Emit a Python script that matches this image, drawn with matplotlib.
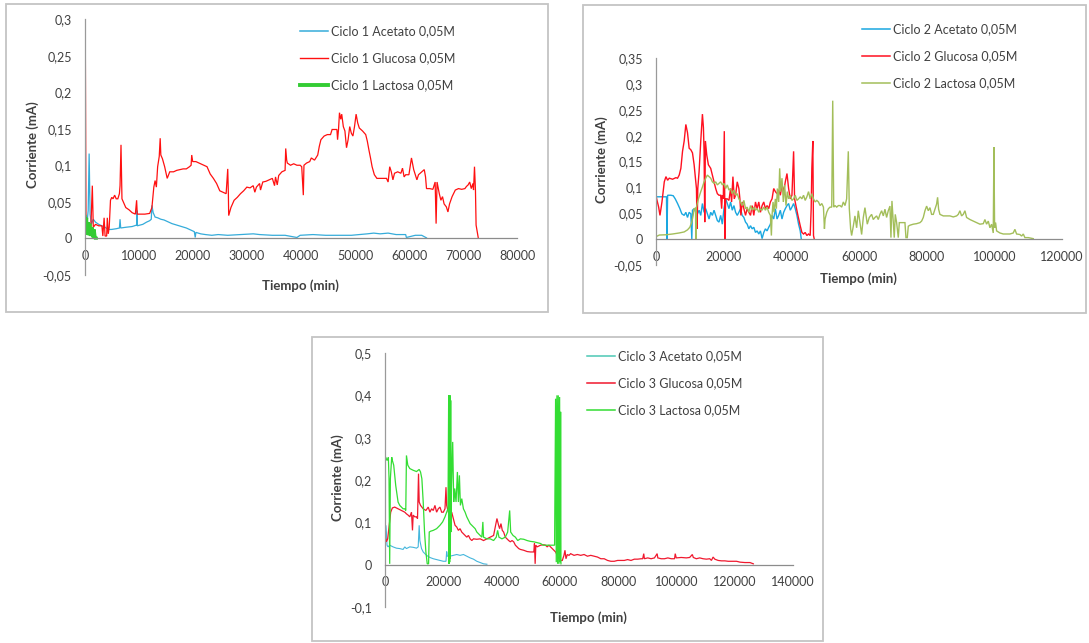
import numpy as np
import matplotlib.pyplot as plt
from matplotlib.patches import Rectangle
from matplotlib.lines import Line2D
from matplotlib.ticker import FuncFormatter, MultipleLocator

plt.rcParams['font.family'] = ['Lato', 'DejaVu Sans']
plt.rcParams['axes.unicode_minus'] = False

# ---------------------------------------------------------------------
# Data: (tiempo [min], corriente [mA]) pairs read from the logger runs
# ---------------------------------------------------------------------
c1_acetato = [
    (0, 0.015), (354, 0.019), (590, 0.038), (767, 0.116), (944, 0.033), (1180, 0.019),
    (1534, 0.026), (1947, 0.022), (2537, 0.019), (3127, 0.017), (3717, 0.015), (4307, 0.012),
    (4897, 0.012), (5782, 0.013), (6372, 0.014), (6490, 0.026), (6608, 0.014), (7552, 0.015),
    (8732, 0.016), (9558, 0.018), (9617, 0.038), (9676, 0.017), (10702, 0.019), (11387, 0.022),
    (11977, 0.024), (12272, 0.026), (12390, 0.045), (12626, 0.035), (12980, 0.029), (13452, 0.028),
    (14042, 0.026), (14632, 0.025), (15222, 0.023), (16107, 0.020), (16992, 0.018), (17877, 0.016),
    (18762, 0.014), (19647, 0.011), (20237, 0.009), (20414, 0.001), (20532, 0.008), (21417, 0.006),
    (22302, 0.005), (23482, 0.004), (24662, 0.005), (26432, 0.004), (28792, 0.005), (31152, 0.006),
    (32332, 0.005), (34692, 0.004), (37052, 0.004), (39245, 0.001), (39837, 0.004), (42207, 0.005),
    (44577, 0.004), (49317, 0.004), (52280, 0.006), (53465, 0.007), (54650, 0.006), (56131, 0.007),
    (57612, 0.005), (59390, 0.005), (59508, 0.001), (61167, 0.004), (62352, 0.004), (63241, 0.0005),
]
c1_glucosa = [
    (0, 0.050), (60, 0.267), (180, 0.030), (472, 0.015), (826, 0.006), (1062, 0.010),
    (1357, 0.072), (1534, 0.015), (1947, 0.019), (2537, 0.017), (3127, 0.017), (3304, 0.003),
    (3540, 0.028), (3717, 0.003), (4012, 0.003), (4130, 0.028), (4307, 0.006), (4484, 0.015),
    (4720, 0.052), (4956, 0.056), (5192, 0.054), (5487, 0.059), (5782, 0.054), (6077, 0.054),
    (6372, 0.061), (6490, 0.072), (6667, 0.128), (6844, 0.054), (7257, 0.047), (7552, 0.042),
    (8142, 0.039), (8732, 0.035), (9322, 0.033), (9558, 0.052), (9676, 0.033), (10207, 0.033),
    (11092, 0.033), (11977, 0.034), (12390, 0.042), (12744, 0.070), (12980, 0.079), (13216, 0.070),
    (13452, 0.098), (13747, 0.112), (13924, 0.137), (14042, 0.114), (14337, 0.109), (14750, 0.098),
    (15222, 0.082), (15694, 0.091), (16402, 0.091), (16992, 0.093), (17582, 0.094), (18172, 0.095),
    (18762, 0.095), (19352, 0.098), (19647, 0.100), (19765, 0.114), (19942, 0.105), (20532, 0.105),
    (21417, 0.102), (22007, 0.100), (22597, 0.098), (23187, 0.088), (23777, 0.082), (24367, 0.075),
    (24957, 0.065), (25547, 0.063), (26137, 0.061), (26432, 0.095), (26550, 0.061), (26609, 0.031),
    (27022, 0.042), (27612, 0.052), (28202, 0.056), (28792, 0.061), (29382, 0.065), (29972, 0.070),
    (30562, 0.069), (31152, 0.072), (31450, 0.063), (31742, 0.070), (32332, 0.075), (32500, 0.066),
    (32922, 0.077), (33512, 0.078), (34102, 0.080), (34692, 0.082), (35100, 0.072), (35282, 0.084),
    (35600, 0.073), (35872, 0.086), (36462, 0.091), (37052, 0.093), (37170, 0.123), (37347, 0.107),
    (37467, 0.103), (38060, 0.100), (38652, 0.102), (39245, 0.100), (39837, 0.100), (40133, 0.098),
    (40430, 0.059), (40548, 0.100), (41022, 0.103), (41614, 0.105), (41911, 0.110), (42503, 0.107),
    (43096, 0.114), (43392, 0.126), (43688, 0.135), (44281, 0.140), (44873, 0.142), (45466, 0.142),
    (45762, 0.149), (46355, 0.149), (46651, 0.149), (46769, 0.135), (46947, 0.149), (47125, 0.172),
    (47362, 0.163), (47540, 0.170), (47836, 0.153), (48132, 0.147), (48428, 0.124), (48725, 0.135),
    (49021, 0.153), (49317, 0.144), (49613, 0.140), (49910, 0.153), (50206, 0.170), (50502, 0.158),
    (50798, 0.151), (51391, 0.147), (51984, 0.142), (52280, 0.133), (52576, 0.121), (52872, 0.110),
    (53168, 0.098), (53583, 0.087), (54057, 0.082), (54946, 0.082), (55835, 0.082), (56131, 0.077),
    (56427, 0.098), (56723, 0.091), (57020, 0.080), (57316, 0.089), (57908, 0.091), (58501, 0.089),
    (58797, 0.096), (59093, 0.084), (59390, 0.087), (59982, 0.087), (60456, 0.110), (60871, 0.094),
    (61167, 0.087), (61463, 0.080), (61760, 0.087), (62352, 0.091), (62826, 0.094), (63063, 0.084),
    (63241, 0.068), (63834, 0.068), (64426, 0.067), (64841, 0.077), (65018, 0.020), (65196, 0.077),
    (65611, 0.061), (65907, 0.052), (66203, 0.057), (66500, 0.047), (66914, 0.043), (67211, 0.036),
    (67507, 0.047), (67981, 0.057), (68573, 0.066), (69166, 0.068), (69759, 0.067), (70351, 0.068),
    (70647, 0.071), (70943, 0.073), (71240, 0.077), (71536, 0.068), (71832, 0.075), (71951, 0.066),
    (72128, 0.098), (72306, 0.066), (72424, 0.018), (72839, 0.0),
]
c1_lactosa = [
    (0, 0.030), (150, 0.010), (300, 0.028), (450, 0.005), (600, 0.022), (750, 0.004),
    (900, 0.020), (1100, 0.003), (1300, 0.015), (1500, 0.001), (1700, 0.012), (1900, 0.0),
    (2100, 0.0),
]

c2_acetato = [
    (0, 0.082), (1500, 0.082), (3100, 0.082), (3234, 0.0), (3430, 0.085), (4410, 0.085),
    (5096, 0.084), (5684, 0.078), (6370, 0.069), (7056, 0.059), (7644, 0.049), (8330, 0.046),
    (8820, 0.052), (9310, 0.042), (9800, 0.052), (10290, 0.049), (10584, 0.0), (10780, 0.056),
    (11270, 0.059), (11760, 0.052), (12250, 0.049), (12740, 0.056), (13230, 0.046), (13720, 0.069),
    (14210, 0.052), (14700, 0.059), (15190, 0.049), (15680, 0.039), (16170, 0.052), (16660, 0.046),
    (17150, 0.056), (17640, 0.046), (18130, 0.036), (18620, 0.033), (19110, 0.046), (19600, 0.029),
    (20090, 0.059), (20580, 0.078), (21070, 0.069), (21560, 0.059), (22050, 0.072), (22540, 0.056),
    (23030, 0.065), (23520, 0.052), (24010, 0.046), (24500, 0.052), (24990, 0.059), (25480, 0.046),
    (25970, 0.042), (26460, 0.033), (26950, 0.029), (27440, 0.020), (27930, 0.026), (28420, 0.020),
    (28910, 0.023), (29400, 0.013), (29890, 0.016), (30380, 0.010), (30870, 0.016), (31360, 0.001),
    (31850, 0.013), (32340, 0.020), (32830, 0.016), (33320, 0.023), (33810, 0.029), (34300, 0.046),
    (34790, 0.039), (35280, 0.059), (35770, 0.039), (36260, 0.046), (36750, 0.056), (37240, 0.039),
    (37730, 0.052), (38220, 0.059), (38710, 0.065), (39200, 0.069), (39690, 0.056), (40180, 0.062),
    (40670, 0.069), (41160, 0.059), (41650, 0.046), (42140, 0.029), (42630, 0.016), (42924, 0.001),
]
c2_glucosa = [
    (0, 0.085), (196, 0.078), (784, 0.062), (1176, 0.046), (1764, 0.072), (2450, 0.111),
    (2940, 0.121), (3430, 0.114), (3920, 0.118), (4900, 0.116), (5880, 0.119), (6370, 0.118),
    (6860, 0.124), (7350, 0.137), (7840, 0.170), (8330, 0.190), (8820, 0.222), (9310, 0.206),
    (9800, 0.176), (10290, 0.173), (10780, 0.167), (11270, 0.144), (11564, 0.124), (11956, 0.098),
    (12152, 0.020), (12348, 0.098), (12740, 0.131), (13230, 0.190), (13720, 0.242), (14014, 0.216),
    (14210, 0.170), (14406, 0.033), (14602, 0.190), (14994, 0.163), (15484, 0.144), (16170, 0.137),
    (16660, 0.124), (17150, 0.111), (17640, 0.098), (18130, 0.088), (18620, 0.085), (19110, 0.085),
    (19404, 0.059), (19600, 0.085), (19894, 0.078), (20188, 0.209), (20384, 0.0), (20580, 0.078),
    (21070, 0.078), (21560, 0.075), (22050, 0.098), (22344, 0.072), (22736, 0.121), (23128, 0.078),
    (23520, 0.085), (24010, 0.111), (24500, 0.098), (24794, 0.078), (25088, 0.046), (25480, 0.072),
    (25970, 0.059), (26460, 0.046), (26950, 0.059), (27440, 0.052), (27930, 0.046), (28420, 0.065),
    (28910, 0.046), (29400, 0.072), (29890, 0.059), (30380, 0.072), (30870, 0.052), (31360, 0.065),
    (31850, 0.072), (32340, 0.059), (32830, 0.065), (33320, 0.059), (33810, 0.072), (34300, 0.078),
    (34790, 0.098), (35280, 0.092), (35770, 0.088), (36260, 0.095), (36750, 0.085), (37240, 0.105),
    (37730, 0.092), (38220, 0.111), (38710, 0.127), (39200, 0.098), (39690, 0.078), (40180, 0.085),
    (40670, 0.170), (40964, 0.078), (41356, 0.065), (41944, 0.046), (42630, 0.026), (43120, 0.013),
    (43610, 0.010), (44100, 0.013), (44590, 0.007), (45080, 0.010), (45570, 0.007), (45864, 0.059),
    (46060, 0.137), (46354, 0.190), (46550, 0.007), (46746, 0.001),
]
c2_lactosa = [
    (0, 0.0), (30, 0.290), (60, 0.005), (980, 0.008), (2940, 0.0085), (4900, 0.010),
    (6860, 0.012), (8330, 0.014), (9310, 0.018), (9996, 0.023), (10584, 0.033), (10976, 0.046),
    (11270, 0.059), (11700, 0.060), (11760, 0.0), (11820, 0.060), (11956, 0.062), (12544, 0.078),
    (13230, 0.092), (13720, 0.101), (14210, 0.111), (14700, 0.118), (15190, 0.124), (15680, 0.121),
    (16170, 0.118), (16660, 0.111), (17150, 0.108), (17640, 0.111), (18130, 0.105), (18620, 0.108),
    (19110, 0.111), (19600, 0.105), (20090, 0.108), (20580, 0.098), (21070, 0.105), (21560, 0.095),
    (22050, 0.098), (22540, 0.088), (23030, 0.095), (23520, 0.085), (24010, 0.088), (24500, 0.078),
    (24990, 0.072), (25480, 0.065), (25970, 0.075), (26460, 0.059), (26950, 0.062), (27440, 0.052),
    (27930, 0.065), (28420, 0.056), (28910, 0.062), (29400, 0.056), (29890, 0.059), (30380, 0.052),
    (30870, 0.059), (31360, 0.056), (31850, 0.062), (32340, 0.056), (32830, 0.062), (33320, 0.052),
    (33810, 0.046), (34104, 0.007), (34300, 0.046), (34594, 0.072), (34888, 0.052), (35280, 0.078),
    (35574, 0.059), (35868, 0.098), (36260, 0.072), (36554, 0.137), (36848, 0.092), (37240, 0.118),
    (37632, 0.072), (38024, 0.105), (38416, 0.065), (38808, 0.092), (39200, 0.078), (39690, 0.085),
    (40180, 0.075), (40670, 0.078), (41160, 0.085), (41650, 0.075), (42140, 0.078), (42630, 0.082),
    (43120, 0.078), (43610, 0.085), (44100, 0.075), (44590, 0.082), (45080, 0.092), (45570, 0.078),
    (46060, 0.088), (46550, 0.078), (47040, 0.072), (47530, 0.075), (48020, 0.072), (48510, 0.065),
    (49000, 0.069), (49490, 0.062), (49784, 0.020), (49980, 0.039), (50470, 0.052), (50960, 0.059),
    (51450, 0.062), (51940, 0.062), (52234, 0.268), (52528, 0.062), (52920, 0.065), (53410, 0.062),
    (53900, 0.065), (54390, 0.065), (54880, 0.062), (55370, 0.072), (55860, 0.065), (56350, 0.078),
    (56840, 0.170), (57134, 0.059), (57526, 0.020), (57820, 0.007), (58310, 0.025), (58800, 0.045),
    (59300, 0.022), (59790, 0.055), (60280, 0.032), (60780, 0.009), (61270, 0.042), (61760, 0.061),
    (62450, 0.029), (63040, 0.042), (63730, 0.048), (64220, 0.038), (64720, 0.042), (65210, 0.045),
    (65700, 0.038), (66190, 0.048), (66690, 0.055), (67180, 0.045), (67670, 0.058), (68160, 0.042),
    (68650, 0.055), (69150, 0.064), (69440, 0.003), (69740, 0.074), (70130, 0.035), (70420, 0.003),
    (70720, 0.048), (71120, 0.032), (71610, 0.003), (71910, 0.032), (72600, 0.032), (73090, 0.032),
    (73580, 0.032), (73880, 0.003), (74270, 0.003), (74570, 0.025), (75060, 0.027), (76050, 0.029),
    (77030, 0.030), (78020, 0.032), (78510, 0.035), (79000, 0.042), (79490, 0.055), (79990, 0.064),
    (80480, 0.055), (80970, 0.061), (81460, 0.048), (81960, 0.048), (82450, 0.058), (82940, 0.068),
    (83230, 0.081), (83530, 0.058), (83920, 0.048), (84910, 0.045), (85890, 0.045), (86880, 0.045),
    (87860, 0.043), (88850, 0.045), (89340, 0.048), (89830, 0.055), (90320, 0.045), (90820, 0.048),
    (91310, 0.055), (91800, 0.042), (92790, 0.038), (93770, 0.035), (94760, 0.032), (95740, 0.029),
    (96730, 0.030), (97220, 0.038), (97710, 0.029), (98210, 0.035), (98700, 0.022), (99190, 0.029),
    (99680, 0.012), (99880, 0.178), (100080, 0.022), (100370, 0.032), (100670, 0.016), (101650, 0.012),
    (102640, 0.010), (103620, 0.010), (104610, 0.010), (105590, 0.012), (106080, 0.019), (106580, 0.010),
    (107560, 0.009), (108060, 0.006), (108550, 0.010), (109040, 0.003), (110030, 0.003), (111500, 0.001),
]

c3_acetato = [
    (0, 0.030), (230, 0.093), (460, 0.077), (690, 0.046), (1035, 0.042), (1610, 0.046),
    (2760, 0.042), (3910, 0.039), (5060, 0.038), (6210, 0.036), (6785, 0.042), (7360, 0.038),
    (8510, 0.042), (9660, 0.041), (10810, 0.039), (11385, 0.042), (11730, 0.093), (11960, 0.057),
    (12535, 0.038), (13110, 0.030), (14260, 0.022), (15410, 0.017), (16560, 0.014), (17710, 0.012),
    (18860, 0.010), (20010, 0.008), (20930, 0.008), (21160, 0.031), (21390, 0.020), (22310, 0.020),
    (23460, 0.022), (24610, 0.024), (25760, 0.022), (26910, 0.024), (28060, 0.020), (29210, 0.016),
    (30360, 0.013), (31510, 0.008), (32660, 0.005), (33810, 0.002), (34960, 0.001),
]
c3_glucosa = [
    (0, 0.069), (460, 0.054), (920, 0.061), (1380, 0.089), (1955, 0.124), (2530, 0.134),
    (3335, 0.136), (4485, 0.132), (5635, 0.128), (6785, 0.124), (7360, 0.120), (7935, 0.117),
    (8510, 0.113), (9085, 0.124), (9430, 0.081), (9660, 0.117), (10235, 0.113), (10810, 0.113),
    (11155, 0.109), (11500, 0.215), (11730, 0.148), (12190, 0.140), (13110, 0.132), (14030, 0.128),
    (14835, 0.136), (15410, 0.124), (15985, 0.132), (16560, 0.128), (17135, 0.140), (17710, 0.124),
    (18285, 0.132), (18860, 0.136), (19435, 0.124), (20010, 0.124), (20585, 0.132), (20930, 0.183),
    (21160, 0.140), (21735, 0.124), (22310, 0.117), (22885, 0.124), (23460, 0.109), (24035, 0.093),
    (24610, 0.089), (25185, 0.081), (25760, 0.085), (26335, 0.077), (26910, 0.073), (27485, 0.069),
    (28060, 0.065), (28635, 0.069), (29210, 0.061), (29785, 0.057), (30360, 0.061), (31510, 0.060),
    (32660, 0.061), (33810, 0.057), (34960, 0.061), (36110, 0.065), (37260, 0.069), (37835, 0.089),
    (38410, 0.109), (38985, 0.093), (39330, 0.085), (39790, 0.097), (40250, 0.081), (40710, 0.077),
    (41285, 0.065), (41860, 0.061), (42435, 0.057), (43010, 0.054), (43585, 0.057), (44160, 0.054),
    (44735, 0.046), (45310, 0.042), (45885, 0.038), (46460, 0.036), (47610, 0.034), (48760, 0.031),
    (49910, 0.030), (51060, 0.030), (51290, 0.050), (51520, 0.002), (51750, 0.046), (52210, 0.042),
    (53360, 0.046), (54510, 0.047), (55085, 0.046), (55660, 0.042), (56235, 0.046), (56810, 0.042),
    (57385, 0.038), (57960, 0.034), (58535, 0.030), (59110, 0.022), (59685, 0.014), (60260, 0.010),
    (60835, 0.010), (61410, 0.022), (61755, 0.034), (62100, 0.014), (62560, 0.024), (63135, 0.022),
    (63710, 0.026), (64860, 0.022), (66010, 0.024), (67160, 0.022), (68310, 0.024), (69460, 0.020),
    (70610, 0.022), (71760, 0.020), (72910, 0.018), (74060, 0.014), (75210, 0.014), (76360, 0.010),
    (77510, 0.008), (78660, 0.008), (79810, 0.010), (80960, 0.010), (82110, 0.010), (83260, 0.012),
    (84410, 0.010), (85560, 0.013), (86710, 0.013), (87860, 0.014), (88435, 0.014), (88780, 0.026),
    (89010, 0.014), (90160, 0.016), (91310, 0.014), (92460, 0.016), (93035, 0.022), (93380, 0.026),
    (93610, 0.016), (94760, 0.014), (95910, 0.014), (97060, 0.016), (98210, 0.014), (99360, 0.014),
    (99590, 0.026), (99935, 0.016), (101660, 0.017), (103385, 0.016), (104535, 0.017), (105455, 0.024),
    (105800, 0.017), (106835, 0.014), (107985, 0.016), (109135, 0.014), (110285, 0.013), (111435, 0.014),
    (112010, 0.010), (112585, 0.018), (113160, 0.013), (114310, 0.010), (115460, 0.009), (116610, 0.009),
    (117760, 0.008), (118910, 0.008), (120635, 0.008), (121785, 0.006), (123510, 0.005), (125235, 0.005),
    (126385, 0.002),
]
c3_lactosa = [
    (0, 0.250), (230, 0.254), (690, 0.246), (1150, 0.254), (1380, 0.203), (1610, 0.002),
    (1840, 0.203), (2300, 0.254), (2530, 0.246), (2990, 0.235), (3680, 0.187), (4485, 0.148),
    (5060, 0.140), (5635, 0.136), (6210, 0.132), (6785, 0.132), (7130, 0.128), (7360, 0.258),
    (7820, 0.235), (8510, 0.227), (9660, 0.223), (10810, 0.220), (11730, 0.225), (12190, 0.219),
    (12650, 0.203), (13110, 0.148), (13570, 0.077), (14030, 0.030), (14490, 0.002), (14950, 0.002),
    (15180, 0.077), (15640, 0.079), (16560, 0.081), (17710, 0.085), (18860, 0.093), (19780, 0.101),
    (20585, 0.113), (21160, 0.124), (21620, 0.132), (21850, 0.400), (21965, 0.002), (22080, 0.392),
    (22195, 0.006), (22310, 0.400), (22425, 0.014), (22540, 0.388), (22655, 0.077), (22770, 0.172),
    (23230, 0.290), (23575, 0.148), (23920, 0.180), (24380, 0.148), (24840, 0.219), (25185, 0.148),
    (25530, 0.211), (25875, 0.140), (26335, 0.156), (26910, 0.132), (27485, 0.124), (28060, 0.113),
    (28635, 0.105), (29210, 0.097), (29785, 0.093), (30360, 0.089), (30935, 0.085), (31510, 0.077),
    (32085, 0.073), (32660, 0.069), (33235, 0.065), (33580, 0.101), (33810, 0.065), (34960, 0.061),
    (36110, 0.061), (37260, 0.057), (38180, 0.065), (38640, 0.081), (39100, 0.065), (40135, 0.061),
    (41285, 0.065), (42090, 0.077), (42780, 0.128), (43125, 0.077), (43930, 0.069), (44735, 0.065),
    (45540, 0.057), (46460, 0.061), (47610, 0.060), (48760, 0.057), (49910, 0.055), (51060, 0.054),
    (52210, 0.052), (53360, 0.050), (54280, 0.046), (55085, 0.046), (56235, 0.046), (57385, 0.046),
    (58190, 0.046), (58535, 0.392), (58765, 0.006), (58995, 0.400), (59225, 0.002), (59455, 0.400),
    (59685, 0.002), (59915, 0.396), (60145, 0.006), (60260, 0.361), (60375, 0.002),
]

labels_1 = ['Ciclo 1 Acetato 0,05M', 'Ciclo 1 Glucosa 0,05M', 'Ciclo 1 Lactosa 0,05M']
labels_2 = ['Ciclo 2 Acetato 0,05M', 'Ciclo 2 Glucosa 0,05M', 'Ciclo 2 Lactosa 0,05M']
labels_3 = ['Ciclo 3 Acetato 0,05M', 'Ciclo 3 Glucosa 0,05M', 'Ciclo 3 Lactosa 0,05M']

# =====================================================================
# Layout helpers (pixel boxes, origin at top-left of the page)
# =====================================================================
W, H = 1089, 643
fig = plt.figure(figsize=(W / 100, H / 100), dpi=100)
TXT = '#404040'


def box(x0, y0, x1, y1):
    return [x0 / W, 1 - y1 / H, (x1 - x0) / W, (y1 - y0) / H]


def fpos(x, y):
    return x / W, 1 - y / H


def comma(v, pos=None):
    v = round(v, 4) + 0.0
    return f"{v:g}".replace('.', ',')


def frame(x0, y0, x1, y1):
    fig.add_artist(Rectangle((x0 / W, 1 - y1 / H), (x1 - x0) / W, (y1 - y0) / H,
                             transform=fig.transFigure, fill=False,
                             edgecolor='#C4C4C4', linewidth=1.3))


def setup(ax, xmax, xstep, ymin, ymax, ystep):
    ax.set_xlim(0, xmax)
    ax.set_ylim(ymin, ymax)
    ax.patch.set_alpha(0)
    for s in ('top', 'right'):
        ax.spines[s].set_visible(False)
    ax.spines['bottom'].set_position(('data', 0))
    ax.spines['bottom'].set_color('#8C8C8C')
    ax.spines['left'].set_color('#9A9A9A')
    ax.spines['bottom'].set_linewidth(0.9)
    ax.spines['left'].set_linewidth(0.9)
    ax.xaxis.set_major_locator(MultipleLocator(xstep))
    ax.yaxis.set_major_locator(MultipleLocator(ystep))
    ax.yaxis.set_major_formatter(FuncFormatter(comma))
    ax.xaxis.set_major_formatter(FuncFormatter(lambda v, p: f"{int(round(v))}"))
    ax.tick_params(axis='both', length=0, labelsize=9, colors=TXT)
    ax.tick_params(axis='y', pad=9.5)
    ax.tick_params(axis='x', pad=8.5)


def draw(ax, series, colors, widths):
    for data, c, lw in zip(series, colors, widths):
        t, i = np.array(data).T
        ax.plot(t, i, color=c, linewidth=lw, solid_joinstyle='miter')


def legend(ax, labels, colors, widths, anchor):
    handles = [Line2D([], [], color=c, linewidth=lw) for c, lw in zip(colors, widths)]
    ax.legend(handles, labels, loc='upper left', bbox_to_anchor=fpos(*anchor),
              bbox_transform=fig.transFigure, frameon=False, fontsize=9,
              handlelength=2.25, handletextpad=0.2, labelspacing=1.22,
              borderpad=0, borderaxespad=0, labelcolor=TXT)


def titles(xl, yl):
    fig.text(*fpos(*xl), 'Tiempo (min)', ha='center', va='center',
             fontsize=9.5, fontweight='bold', color=TXT)
    fig.text(*fpos(*yl), 'Corriente (mA)', ha='center', va='center',
             rotation=90, fontsize=9.5, fontweight='bold', color=TXT)


# ---- Ciclo 1 --------------------------------------------------------
frame(6, 4, 548, 312)
ax1 = fig.add_axes(box(85, 19.3, 517, 274.7))
setup(ax1, 80000, 10000, -0.05, 0.3, 0.05)
col1 = ['#35ACDA', '#FF1010', '#33CC33']
draw(ax1, [c1_acetato, c1_glucosa, c1_lactosa], col1, [0.9, 0.9, 2.2])
legend(ax1, labels_1, col1, [1.1, 1.0, 2.8], (300, 25))
titles((300, 286), (33, 145))

# ---- Ciclo 2 --------------------------------------------------------
frame(583, 5, 1086, 313)
ax2 = fig.add_axes(box(656, 58.3, 1062, 265))
setup(ax2, 120000, 20000, -0.05, 0.35, 0.05)
col2 = ['#1AA7E0', '#FF1020', '#A3BE5A']
draw(ax2, [c2_acetato, c2_glucosa, c2_lactosa], col2, [1.0, 1.0, 1.0])
legend(ax2, labels_2, col2, [1.1, 1.1, 1.1], (862, 23))
titles((858, 279), (602, 160))

# ---- Ciclo 3 --------------------------------------------------------
frame(312, 337, 823, 641)
ax3 = fig.add_axes(box(385, 353, 793, 607))
setup(ax3, 140000, 20000, -0.1, 0.5, 0.1)
col3 = ['#44B6DC', '#F0182E', '#33DD33']
draw(ax3, [c3_acetato, c3_glucosa, c3_lactosa], col3, [0.8, 0.9, 0.9])
legend(ax3, labels_3, ['#4CC8B4', '#F0182E', '#33DD33'], [1.1, 1.1, 1.1], (587, 350))
titles((588, 618), (338, 478))

fig.savefig('out.png', dpi=100)
